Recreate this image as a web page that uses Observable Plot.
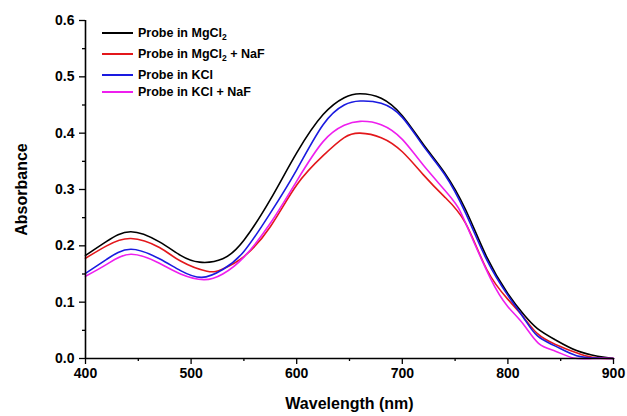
<!DOCTYPE html>
<html>
<head>
<meta charset="utf-8">
<script src="https://cdn.jsdelivr.net/npm/d3@7"></script>
<script src="https://cdn.jsdelivr.net/npm/@observablehq/plot@0.6"></script>
<style>
  html, body { margin: 0; padding: 0; background: #fff; }
  #wrap { position: relative; width: 627px; height: 416px; font-family: "Liberation Sans", Arial, sans-serif; }
  #legend { position: absolute; left: 102px; top: 25px; font-weight: bold; font-size: 12.5px; color: #000; }
  .row { position: absolute; left: 0; white-space: nowrap; display: flex; align-items: center; height: 16px; }
  .sw { width: 31px; height: 2px; margin-right: 5px; }
  sub { font-size: 8.5px; vertical-align: -3px; line-height: 0; }
</style>
</head>
<body>
<div id="wrap"><div id="legend"></div></div>
<script>
// Series names and colours
const seriesNames = ["Probe in MgCl2", "Probe in MgCl2 + NaF", "Probe in KCl", "Probe in KCl + NaF"];
const seriesLabels = ["Probe in MgCl<sub>2</sub>", "Probe in MgCl<sub>2</sub> + NaF", "Probe in KCl", "Probe in KCl + NaF"];
const seriesColors = ["#000000", "#e3171b", "#1a1ae0", "#ee1fee"];

// Wavelength (nm) / absorbance pairs
const mgWl  = [400, 420, 443, 470, 490, 508, 530, 550, 575, 600, 625, 645, 660, 680, 700, 720, 740, 760, 780, 800, 815, 828, 845, 865, 885, 900];
const mgAbs = [0.183, 0.208, 0.225, 0.207, 0.183, 0.171, 0.177, 0.210, 0.282, 0.365, 0.433, 0.463, 0.470, 0.462, 0.431, 0.380, 0.330, 0.264, 0.180, 0.115, 0.078, 0.053, 0.033, 0.014, 0.004, 0.0];

const mgNaFWl  = [400, 420, 443, 470, 490, 515, 530, 550, 575, 600, 625, 645, 660, 680, 700, 720, 740, 760, 780, 800, 815, 828, 845, 865, 880, 900];
const mgNaFAbs = [0.178, 0.200, 0.213, 0.197, 0.173, 0.155, 0.159, 0.181, 0.234, 0.308, 0.360, 0.392, 0.400, 0.392, 0.367, 0.326, 0.287, 0.240, 0.158, 0.105, 0.073, 0.044, 0.025, 0.010, 0.002, 0.0];

const kWl  = [400, 420, 443, 470, 490, 510, 530, 550, 575, 600, 625, 645, 660, 680, 700, 720, 740, 760, 780, 800, 815, 828, 845, 865, 885, 900];
const kAbs = [0.151, 0.176, 0.194, 0.177, 0.156, 0.144, 0.158, 0.190, 0.258, 0.335, 0.415, 0.450, 0.457, 0.453, 0.428, 0.377, 0.327, 0.258, 0.175, 0.112, 0.072, 0.040, 0.022, 0.005, 0.001, 0.0];

const kNaFWl  = [400, 420, 443, 470, 490, 512, 530, 550, 575, 600, 625, 645, 660, 680, 700, 720, 746, 760, 783, 800, 815, 829, 845, 862, 880, 900];
const kNaFAbs = [0.146, 0.167, 0.185, 0.169, 0.150, 0.140, 0.150, 0.180, 0.240, 0.315, 0.385, 0.414, 0.421, 0.415, 0.389, 0.343, 0.286, 0.240, 0.144, 0.092, 0.060, 0.027, 0.013, 0.001, 0.0, 0.0];

// Axis ticks
const xTicks = [400, 500, 600, 700, 800, 900];
const xMinor = [450, 550, 650, 750, 850];
const yTicks = [0, 0.1, 0.2, 0.3, 0.4, 0.5, 0.6];
const yMinor = [0.05, 0.15, 0.25, 0.35, 0.45, 0.55];

const wls = [mgWl, mgNaFWl, kWl, kNaFWl];
const abss = [mgAbs, mgNaFAbs, kAbs, kNaFAbs];
const data = seriesNames.flatMap((s, i) => wls[i].map((w, j) => ({series: s, wl: w, abs: abss[i][j]})));

const chart = Plot.plot({
  width: 627,
  height: 416,
  marginLeft: 85,
  marginRight: 14,
  marginTop: 20,
  marginBottom: 58,
  style: {fontFamily: "'Liberation Sans', Arial, sans-serif", background: "transparent", color: "#000"},
  x: {domain: [400, 900]},
  y: {domain: [0, 0.6]},
  color: {domain: seriesNames, range: seriesColors},
  marks: [
    Plot.line(data, {x: "wl", y: "abs", stroke: "series", z: "series", strokeWidth: 1.6, curve: "natural"}),
    Plot.axisX({ticks: xMinor, tickSize: 3, tickFormat: () => "", label: null, strokeWidth: 1.3}),
    Plot.axisY({ticks: yMinor, tickSize: 3, tickFormat: () => "", label: null, strokeWidth: 1.3}),
    Plot.axisX({ticks: xTicks, tickSize: 6, tickPadding: 4, tickFormat: d => String(d), fontSize: 14, fontWeight: "bold",
      label: "Wavelength (nm)", labelAnchor: "center", labelArrow: "none", labelOffset: 50, strokeWidth: 1.3}),
    Plot.axisY({ticks: yTicks, tickSize: 6, tickPadding: 5, tickFormat: d3.format(".1f"), fontSize: 14, fontWeight: "bold",
      label: "Absorbance", labelAnchor: "center", labelArrow: "none", labelOffset: 70, strokeWidth: 1.3}),
    Plot.ruleY([0], {strokeWidth: 1.6}),
    Plot.ruleX([400], {strokeWidth: 1.6})
  ]
});
chart.style.position = "absolute";
chart.style.left = "0";
chart.style.top = "0";
document.getElementById("wrap").prepend(chart);
// Enlarge axis titles
d3.select(chart).selectAll('g[aria-label="x-axis label"] text, g[aria-label="y-axis label"] text')
  .attr("font-size", 16).attr("font-weight", "bold");

// Legend (HTML overlay)
const legendTops = [0, 21, 42, 59];
const leg = d3.select("#legend");
seriesLabels.forEach((lab, i) => {
  const r = leg.append("div").attr("class", "row").style("top", legendTops[i] + "px");
  r.append("div").attr("class", "sw").style("background", seriesColors[i]);
  r.append("span").html(lab);
});
</script>
</body>
</html>
